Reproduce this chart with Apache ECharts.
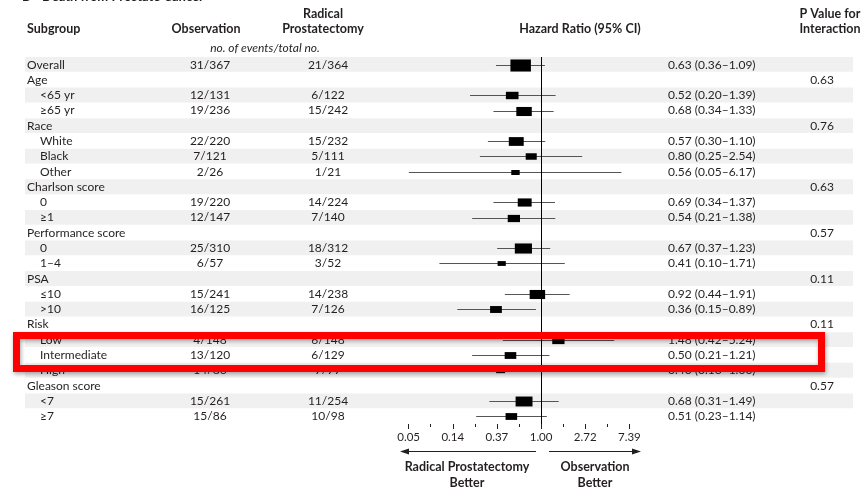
<!DOCTYPE html>
<html>
<head>
<meta charset="utf-8">
<script src="https://cdn.jsdelivr.net/npm/echarts@6/dist/echarts.min.js"></script>
<style>
  html, body { margin: 0; padding: 0; background: #fff; }
  #chart { width: 867px; height: 487px; }
</style>
</head>
<body>
<div id="chart"></div>
<script>
// rows of the forest plot, top to bottom
var labels = ['Overall', 'Age', '<65 yr', '≥65 yr', 'Race', 'White', 'Black', 'Other',
    'Charlson score', '0', '≥1', 'Performance score', '0', '1–4', 'PSA', '≤10', '>10',
    'Risk', 'Low', 'Intermediate', 'High', 'Gleason score', '<7', '≥7'];
var level = [0, 0, 1, 1, 0, 1, 1, 1, 0, 1, 1, 0, 1, 1, 0, 1, 1, 0, 1, 1, 1, 0, 1, 1];
var obsEvents = ['31/367', '', '12/131', '19/236', '', '22/220', '7/121', '2/26', '', '19/220', '12/147',
    '', '25/310', '6/57', '', '15/241', '16/125', '', '4/148', '13/120', '14/86', '', '15/261', '15/86'];
var rpEvents = ['21/364', '', '6/122', '15/242', '', '15/232', '5/111', '1/21', '', '14/224', '7/140',
    '', '18/312', '3/52', '', '14/238', '7/126', '', '6/148', '6/129', '7/77', '', '11/254', '10/98'];
var hr = [0.63, null, 0.52, 0.68, null, 0.57, 0.80, 0.56, null, 0.69, 0.54, null, 0.67, 0.41,
    null, 0.92, 0.36, null, 1.48, 0.50, 0.40, null, 0.68, 0.51];
var ciLow = [0.36, null, 0.20, 0.34, null, 0.30, 0.25, 0.05, null, 0.34, 0.21, null, 0.37, 0.10,
    null, 0.44, 0.15, null, 0.42, 0.21, 0.16, null, 0.31, 0.23];
var ciHigh = [1.09, null, 1.39, 1.33, null, 1.10, 2.54, 6.17, null, 1.37, 1.38, null, 1.23, 1.71,
    null, 1.91, 0.89, null, 5.24, 1.21, 1.00, null, 1.49, 1.14];
// relative weight of each estimate (box area), overall = 100
var weight = [100, null, 38, 57, null, 53, 29, 17, null, 46, 36, null, 70, 16, null, 57, 33, null,
    36, 32, 19, null, 68, 32];
var pInteraction = ['', '0.63', '', '', '0.76', '', '', '', '0.63', '', '', '0.57', '', '', '0.11',
    '', '', '0.11', '', '', '', '0.57', '', ''];
// x axis is ln(hazard ratio); ticks at powers of e
var tickPowers = [-3, -2, -1, 0, 1, 2];
var minorPowers = [-2.5, -1.5, -0.5, 0.5, 1.5];

var FONT = 'Lato, "Open Sans", sans-serif';
var INK = '#231f20';

var rowIds = labels.map(function (l, i) { return String(i); });

var forestData = [];
var bandData = [];
labels.forEach(function (l, i) {
    if (hr[i] != null) {
        forestData.push([Math.log(hr[i]), i, Math.log(ciLow[i]), Math.log(ciHigh[i]), weight[i]]);
    }
    if (i % 2 === 0) bandData.push([0, i]);
});

function hrText(i) {
    if (hr[i] == null) return '';
    return hr[i].toFixed(2) + ' (' + ciLow[i].toFixed(2) + '–' + ciHigh[i].toFixed(2) + ')';
}

function textAxis(position, margin, align, fmt) {
    return {
        type: 'category', data: rowIds, inverse: true, gridIndex: 0, position: position, z: 10,
        axisLine: { show: false }, axisTick: { show: false }, splitLine: { show: false },
        axisLabel: {
            interval: 0, hideOverlap: false, margin: margin, align: align, color: INK,
            fontSize: 12, fontFamily: FONT, formatter: fmt
        }
    };
}

function tickAxis(values, len) {
    return {
        type: 'value', min: -3.15, max: 2.15, gridIndex: 0, position: 'bottom', z: 10,
        axisLine: { show: false },
        axisTick: { show: true, length: len, lineStyle: { color: INK }, customValues: values },
        axisLabel: { show: false },
        splitLine: { show: false }
    };
}

function head(text, x, y, align, font) {
    return {
        type: 'text', x: x, y: y, z: 50,
        style: {
            text: text, font: font || 'bold 12.5px ' + FONT, fill: INK,
            align: align, textAlign: align, verticalAlign: 'middle', textVerticalAlign: 'middle'
        }
    };
}

var chart = echarts.init(document.getElementById('chart'));

var option = {
    animation: false,
    grid: { left: 402, right: 231, top: 57, bottom: 63, outerBoundsMode: 'none' },
    xAxis: [
        {
            type: 'value', min: -3.15, max: 2.15, z: 10,
            axisLine: { lineStyle: { color: INK, width: 1 } },
            axisTick: { show: false },
            axisLabel: {
                customValues: tickPowers, margin: 7, color: INK,
                fontSize: 11.5, fontFamily: FONT,
                formatter: function (v) { return Math.exp(v).toFixed(2); }
            },
            splitLine: { show: false }
        },
        tickAxis(minorPowers, 3),
        tickAxis(tickPowers, 5)
    ],
    yAxis: [
        textAxis('left', 375, 'left', function (v, i) { return level[i] ? '' : labels[i]; }),
        textAxis('left', 362, 'left', function (v, i) { return level[i] ? labels[i] : ''; }),
        textAxis('left', 192, 'center', function (v, i) { return obsEvents[i]; }),
        textAxis('left', 74, 'center', function (v, i) { return rpEvents[i]; }),
        textAxis('right', 32, 'left', function (v, i) { return hrText(i); }),
        textAxis('right', 186, 'center', function (v, i) { return pInteraction[i]; })
    ],
    series: [
        {
            type: 'custom', name: 'bands', xAxisIndex: 0, yAxisIndex: 0, z: 1, clip: false,
            silent: true, data: bandData, encode: { x: 0, y: 1 },
            renderItem: function (params, api) {
                var c = api.coord([0, api.value(1)]);
                var h = api.size([0, 1])[1];
                return {
                    type: 'rect',
                    shape: { x: 25, y: c[1] - h / 2, width: 828, height: h - 0.5 },
                    style: { fill: '#eff0ef' }
                };
            }
        },
        {
            type: 'custom', name: 'forest', xAxisIndex: 0, yAxisIndex: 0, z: 3, clip: false,
            data: forestData, encode: { x: 0, y: 1 },
            renderItem: function (params, api) {
                var row = api.value(1);
                var c = api.coord([api.value(0), row]);
                var l = api.coord([api.value(2), row]);
                var r = api.coord([api.value(3), row]);
                var y = Math.round(c[1]) + 0.5;
                var bh = Math.sqrt(api.value(4) * 2.47 / 1.7);
                var bw = bh * 1.7;
                return {
                    type: 'group',
                    children: [
                        {
                            type: 'line',
                            shape: { x1: l[0], y1: y, x2: r[0], y2: y },
                            style: { stroke: '#555', lineWidth: 1 }
                        },
                        {
                            type: 'rect',
                            shape: { x: c[0] - bw / 2, y: y - bh / 2, width: bw, height: bh },
                            style: { fill: '#000' }
                        }
                    ]
                };
            },
            markLine: {
                silent: true, symbol: 'none', label: { show: false },
                lineStyle: { color: '#000', width: 1, type: 'solid' },
                data: [{ xAxis: 0 }]
            }
        }
    ],
    graphic: [
        head('B', 22, -3, 'left', 'bold 13px ' + FONT),
        head('Death from Prostate Cancer', 42, -3, 'left', 'bold 13px ' + FONT),
        head('Subgroup', 27, 29, 'left'),
        head('Observation', 206, 29, 'center'),
        head('Radical', 323, 14, 'center'),
        head('Prostatectomy', 323, 29, 'center'),
        head('no. of events/total no.', 265, 48, 'center', 'italic 12px ' + FONT),
        head('Hazard Ratio (95% CI)', 580, 29, 'center'),
        head('P Value for', 830, 14, 'center'),
        head('Interaction', 830, 29, 'center'),
        head('Radical Prostatectomy', 467, 467, 'center'),
        head('Better', 467, 483, 'center'),
        head('Observation', 595, 467, 'center'),
        head('Better', 595, 483, 'center'),
        {
            type: 'polyline', z: 50,
            shape: { points: [[536, 451.5], [406, 451.5]] },
            style: { stroke: INK, lineWidth: 1 }
        },
        {
            type: 'polygon', z: 50,
            shape: { points: [[400, 451.5], [409, 448.5], [409, 454.5]] },
            style: { fill: INK }
        },
        {
            type: 'polyline', z: 50,
            shape: { points: [[549, 451.5], [635, 451.5]] },
            style: { stroke: INK, lineWidth: 1 }
        },
        {
            type: 'polygon', z: 50,
            shape: { points: [[641, 451.5], [632, 448.5], [632, 454.5]] },
            style: { fill: INK }
        },
        // red highlight box around the risk rows
        {
            type: 'rect', z: 100,
            shape: { x: 16.5, y: 335.5, width: 805, height: 33 },
            style: {
                fill: 'none', stroke: '#ff0000', lineWidth: 7,
                shadowBlur: 4, shadowColor: 'rgba(0,0,0,0.35)', shadowOffsetX: 1, shadowOffsetY: 2
            }
        }
    ]
};

chart.setOption(option);
</script>
</body>
</html>
